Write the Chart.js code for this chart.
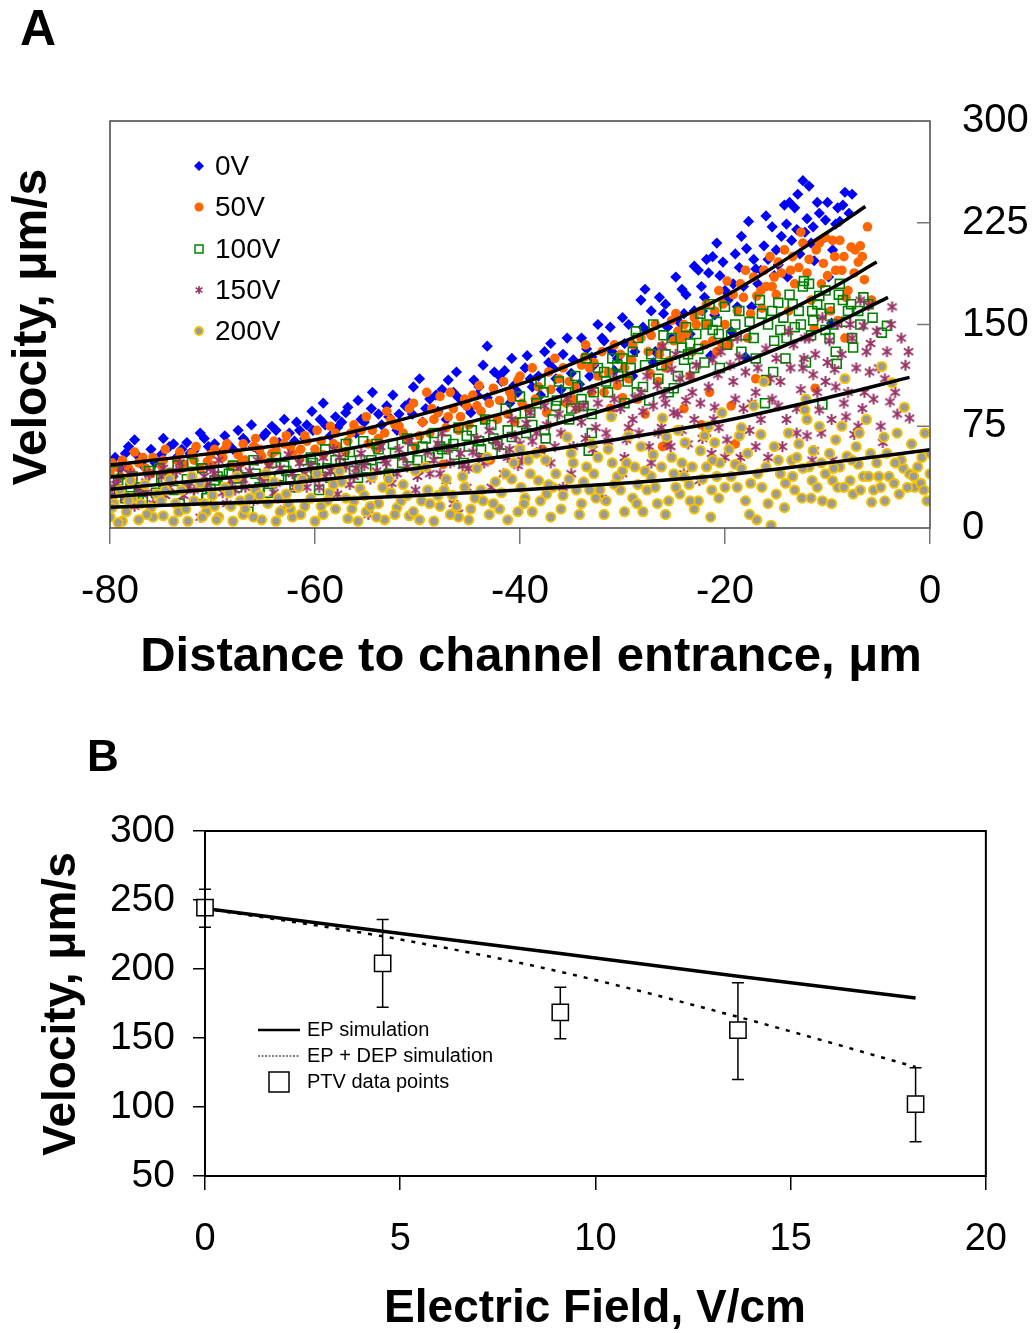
<!DOCTYPE html>
<html><head><meta charset="utf-8">
<script src="https://cdn.jsdelivr.net/npm/chart.js@4.4.0/dist/chart.umd.min.js"></script>
<style>
html,body{margin:0;padding:0;background:#fff;}
#wrap{position:relative;width:1034px;height:1333px;overflow:hidden;background:#fff;}
canvas{position:absolute;left:0;}
#cA{top:0}
#cB{top:700px}
</style></head><body>
<div id="wrap"><canvas id="cA" width="1034" height="700"></canvas><canvas id="cB" width="1034" height="633"></canvas></div>
<script>
// ---------------- Panel A data ----------------
const seriesNamesA = ['0V','50V','100V','150V','200V'];
const xTicksA = [-80,-60,-40,-20,0];
const yTicksA = [0,75,150,225,300];

const s0V = [[-80,48],[-79.5,52],[-78.5,55],[-77.6,65],[-77,50],[-76,58],[-75,54],[-74.2,60],[-73.5,52],[-72.5,63],[-71.8,57],[-70.8,66],[-70,58],[-69.2,55],[-68.5,62],[-67.5,72],[-66.8,64],[-66,60],[-65,68],[-64.2,75],[-63.5,63],[-62.5,70],[-61.8,78],[-61,66],[-60.2,72],[-59.5,80],[-58.5,68],[-57.8,74],[-57,85],[-56,70],[-55.2,78],[-54.5,88],[-53.5,76],[-52.8,82],[-52,72],[-51.2,90],[-50.5,84],[-49.5,78],[-48.8,95],[-48,86],[-47.2,80],[-46.5,100],[-45.5,92],[-44.8,85],[-44,104],[-43.2,96],[-42.5,115],[-41.8,108],[-41,92],[-40.2,100],[-39.5,118],[-38.8,104],[-38,98],[-37.2,122],[-36.5,110],[-35.8,128],[-35,114],[-34.2,106],[-33.5,132],[-32.8,120],[-32,140],[-31.2,148],[-30.5,125],[-29.8,136],[-29,112],[-28.2,168],[-27.5,145],[-26.8,130],[-26,158],[-25.2,140],[-24.5,152],[-23.8,172],[-23,160],[-22.3,178],[-21.8,198],[-21.4,127],[-21.2,200],[-20.5,186],[-20,175],[-19.4,145],[-19.2,180],[-18.8,163],[-18.2,178],[-18,126],[-17.7,226],[-17.4,163],[-17,191],[-16.5,190],[-15.8,198],[-15,205],[-14.5,215],[-13.7,240],[-13.5,212],[-13.2,236],[-12.7,202],[-12.4,256],[-12,228],[-11.6,210],[-11.3,197],[-10.8,232],[-10.2,227],[-9.9,185],[-9.6,151],[-9.2,224],[-8.8,226],[-8.3,247.5],[-7.6,246],
[-78.2,60],[-76.8,46],[-74.8,66],[-73,58],[-71.2,70],[-69.8,62],[-68,58],[-66.2,76],[-64.8,70],[-63,80],[-61.5,72],[-60.3,86],[-59,76],[-58,82],[-56.8,89],[-55.5,80],[-54.4,100],[-53,90],[-51.8,84],[-50.4,104],[-49.2,88],[-48.2,98],[-47,109],[-46,96],[-45,88],[-44.5,109],[-43.2,134],[-42,112],[-41.5,116],[-40.6,105],[-39.3,127],[-38.2,112],[-37.6,130],[-36.8,118],[-36,102],[-34.8,124],[-34,140],[-33,126],[-31.8,138],[-30.8,116],[-30,155],[-28.8,130],[-28,148],[-27,122],[-26.4,170],[-25.6,148],[-24.8,185],[-24,158],[-23.4,143],[-22.6,190],[-22,170],[-21,157],[-20.2,196],[-19.7,168],[-18.6,192],[-17.9,206],[-16.8,180],[-16.2,208],[-15.4,222],[-14.8,194],[-14.2,238],[-13.9,185],[-12.9,246],[-12.2,218],[-11,240],[-10.5,213],[-9.5,205],[-8.5,238],[-7.9,232],
[-79,44],[-77.4,54],[-75.6,48],[-73.8,62],[-72.2,55],[-70.4,60],[-68.8,68],[-67,66],[-65.6,58],[-63.8,72],[-62,64],[-60.8,76],[-59.2,92],[-57.4,78],[-55.8,94],[-53.8,84],[-52.4,98],[-50.8,92],[-49.8,110],[-47.6,102],[-46.2,115],[-44.2,98],[-43.6,120],[-40.8,125],[-39,110],[-37,136],[-35.4,140],[-33.2,112],[-32.4,150],[-31,130],[-29.4,150],[-27.8,176],[-27.2,160],[-25.8,165],[-24.2,176],[-23,193],[-22.2,160],[-21.6,188],[-20.8,210],[-19,202],[-18.4,215],[-17.2,198],[-16,230],[-15.2,186],[-14,224],[-13,220],[-11.8,252],[-11.4,222],[-10,240],[-9,236]];

const s50V = [[-80,40],[-79.5,45],[-78.8,50],[-78,42],[-77.2,48],[-76.5,44],[-75.8,52],[-75,46],[-74.2,41],[-73.5,50],[-72.8,47],[-72,55],[-71.2,44],[-70.5,49],[-69.8,58],[-69,52],[-68.2,46],[-67.5,54],[-66.8,50],[-66,60],[-65.2,53],[-64.5,48],[-63.8,57],[-63,62],[-62.2,55],[-61.5,51],[-60.8,64],[-60,58],[-59.2,54],[-58.5,75],[-57.8,60],[-57,56],[-56.5,70],[-55.5,72],[-54.8,62],[-54,58],[-53.2,70],[-52.6,80],[-51.8,75],[-51,66],[-50.2,60],[-49.5,78],[-49.1,100],[-48.8,70],[-48,85],[-47.8,97],[-47.5,47],[-47.2,74],[-46.5,88],[-45.8,82],[-45.4,95],[-45,76],[-44.2,90],[-43.5,80],[-42.9,50],[-42.6,103],[-42,94],[-41.2,84],[-40.5,78],[-40.2,109],[-40,112],[-39.2,88],[-38.5,95],[-37.8,58],[-37,102],[-36.2,110],[-35.5,92],[-34.8,95],[-34,120],[-33.7,126],[-33,100],[-32.4,112],[-32,130],[-31.2,88],[-30.5,105],[-29.8,118],[-29.1,124],[-28.5,95],[-27.5,130],[-27.3,114],[-26.5,108],[-26.1,60],[-26.2,134],[-25.5,123],[-25.2,153],[-24.6,145],[-24.3,140],[-24,88],[-23.8,143],[-23.2,130],[-22.4,160],[-22.3,76],[-21.8,165],[-21.2,138],[-20.8,130],[-20.3,134],[-19.4,90],[-19,62],[-19.2,172],[-18.5,180],[-17.5,158],[-17,110],[-16.9,171],[-16.5,175],[-16,178],[-15.2,185],[-14.5,188],[-13.6,190],[-13.2,180],[-12.8,192],[-11.3,147],[-11.2,103],[-11.1,205],[-10.6,180],[-10,186],[-9.5,212],[-9.3,200],[-9,153],[-8.8,212],[-8.3,140],[-8.2,170],[-7.7,207],[-7.3,205],[-7,196],[-6.1,222],[-5.7,168],
[-79,38],[-77.6,56],[-76,40],[-74.6,58],[-73,44],[-71.6,60],[-70,46],[-68.6,62],[-67.2,48],[-65.8,66],[-64.2,55],[-62.8,68],[-61.4,58],[-59.8,72],[-58.2,62],[-56.8,64],[-55,82],[-53.8,66],[-52.2,76],[-50.8,88],[-49.8,68],[-48.4,80],[-46.8,100],[-46,72],[-44.6,98],[-43.8,86],[-42.2,80],[-41,100],[-39.8,92],[-38.8,118],[-37.4,85],[-36.6,125],[-35.2,108],[-34.4,88],[-33.2,118],[-31.8,100],[-30.8,135],[-30,96],[-29.4,110],[-28.2,140],[-27.8,84],[-26.8,150],[-25.8,118],[-24.8,158],[-23.4,112],[-22.8,150],[-22,135],[-21.5,100],[-20.6,175],[-20,150],[-19.6,135],[-18.8,160],[-18,190],[-17.8,140],[-16.4,162],[-15.6,200],[-15,172],[-14.2,205],[-13.8,160],[-12.4,210],[-12,188],[-11.6,168],[-10.8,210],[-10.4,195],[-9.7,160],[-8.6,190],[-8,175],[-6.8,208],[-6.4,183],
[-79.8,48],[-78.2,44],[-76.8,52],[-74.8,50],[-73.2,56],[-71.8,50],[-70.2,54],[-68.8,58],[-67,62],[-65.4,58],[-64,64],[-62.4,60],[-61,68],[-59.4,64],[-58,70],[-56.2,76],[-54.4,72],[-53,86],[-51.4,70],[-50.4,92],[-48.6,88],[-47,82],[-45.2,90],[-44,105],[-43,92],[-41.6,108],[-40.8,96],[-38.2,104],[-37.2,115],[-35.8,118],[-34.6,104],[-33.6,135],[-32.8,122],[-31.4,115],[-30.2,128],[-29,135],[-27.2,142],[-26.4,128],[-25,138],[-24,150],[-23,155],[-21.8,150],[-21,160],[-20.2,165],[-19.8,182],[-18.2,170],[-17.2,185],[-16.2,190],[-15.4,178],[-14.8,196],[-13.4,200],[-12.6,218],[-11.8,198],[-10.2,214],[-9.2,190],[-8.4,200],[-7.4,188],[-6.6,200]];

const s100V = [[-80,28],[-79.2,35],[-78.5,22],[-77.8,38],[-77,30],[-76.2,42],[-75.5,26],[-74.8,34],[-74,40],[-73.2,18],[-72.5,36],[-71.8,31],[-71,44],[-70.2,29],[-69.5,38],[-68.8,33],[-68,46],[-67.2,37],[-66.5,12],[-65.8,40],[-65,34],[-64.2,48],[-63.5,38],[-62.8,42],[-62,30],[-61.2,50],[-60.8,40],[-60,44],[-59,58],[-58.5,37],[-57.5,48],[-57,62],[-56.2,42],[-55.8,37],[-55.3,64],[-54.5,50],[-53.5,45],[-52.2,55],[-51.5,48],[-50.5,58],[-49.5,60],[-48.8,52],[-48,55],[-47.2,65],[-46.5,62],[-45.5,48],[-44.7,72],[-43.8,58],[-42.6,66],[-41.8,55],[-40.8,67],[-40,97],[-39.8,78],[-39,85],[-37.7,100],[-37.6,72],[-37.5,66],[-36.5,90],[-35.5,100],[-35,88],[-34,95],[-33.8,90],[-33.5,125],[-33.3,57],[-33,70],[-31.8,115],[-31,125],[-30.5,120],[-30,125],[-29.5,108],[-28.7,145],[-28.5,140],[-28.6,100],[-27.4,94],[-26.5,110],[-26,142],[-25.5,100],[-25,103],[-24.2,133],[-23.6,128],[-22.8,143],[-22,122],[-21.8,150],[-21.5,165],[-21.2,146],[-20.6,143],[-20.5,118],[-20,163],[-19,150],[-17.6,152],[-17,125],[-16,109],[-16.1,92],[-15.3,115],[-15.2,138],[-14.3,155],[-14,140],[-14.1,125],[-13.7,172],[-12.4,178],[-12.3,182],[-12.1,122],[-11.5,160],[-11.4,153],[-11,165],[-10.8,171],[-10.5,91],[-10.2,146],[-9.8,162],[-9.2,130],[-9.1,121],[-8.5,168],[-7.7,165],[-7.6,140],[-7.5,133],[-7,160],[-4.7,144],[-4.2,149],
[-79.6,42],[-78,30],[-76.8,20],[-75.2,44],[-73.8,28],[-72,48],[-70.6,22],[-69,42],[-67.6,30],[-66,50],[-64.6,26],[-63,46],[-61.6,36],[-60.4,52],[-59.6,28],[-58,50],[-56.6,56],[-55,44],[-54,62],[-52.8,40],[-51,66],[-50,50],[-48.4,70],[-47.6,58],[-46,74],[-45,60],[-43.4,80],[-42.2,62],[-41.4,88],[-39.4,70],[-38.4,92],[-36.8,80],[-36.2,108],[-34.6,112],[-33,84],[-32.4,118],[-31.4,100],[-29.8,92],[-29,130],[-27.8,120],[-27,150],[-25.8,128],[-24.6,112],[-23.8,148],[-23,118],[-22.4,158],[-19.8,135],[-18.6,160],[-18,142],[-16.6,168],[-15.8,150],[-14.8,166],[-13.2,148],[-12.8,160],[-11.8,180],[-10.2,175],[-9.5,150],[-8.8,180],[-8.2,152],[-6.5,170],[-5.6,155],
[-78.8,33],[-77.2,25],[-75,36],[-73.4,46],[-71.4,24],[-69.8,35],[-68.4,40],[-66.8,44],[-65.4,30],[-63.8,52],[-62.4,36],[-60.2,48],[-58.8,44],[-57.2,54],[-55.6,50],[-53.8,58],[-52.4,62],[-50.8,52],[-49.2,66],[-47.8,60],[-46.4,54],[-45.2,68],[-44,64],[-42.8,76],[-41.2,72],[-40.4,84],[-38.8,76],[-38,108],[-36.4,94],[-35.2,80],[-34.4,104],[-32.8,100],[-31.6,108],[-30.4,112],[-29.2,118],[-28,104],[-27.2,128],[-26.2,120],[-25.2,140],[-24,124],[-23.4,136],[-22.6,132],[-20.8,152],[-19.4,142],[-18.4,130],[-17.2,140],[-16.4,158],[-15.4,160],[-14.6,146],[-13.4,165],[-12.6,150],[-11.6,142],[-10.6,158],[-9.8,140],[-8.9,172],[-8,160],[-6.8,150],[-6,165]];

const s150V = [[-80,30],[-79.3,36],[-78.6,22],[-78,40],[-77.2,28],[-76.5,34],[-75.8,18],[-75,38],[-74.2,30],[-73.5,42],[-72.8,24],[-72,36],[-71.2,8],[-70.5,32],[-69.8,40],[-69,26],[-68.2,35],[-67.5,44],[-66.8,30],[-66,20],[-65.2,38],[-64.5,46],[-63.8,33],[-63,14],[-62.2,40],[-61.5,48],[-60.8,30],[-60,36],[-59.2,52],[-58.5,42],[-57.8,25],[-57,45],[-56.2,38],[-55.5,55],[-54.8,10],[-54,42],[-53.2,50],[-52.5,33],[-51.8,58],[-51,45],[-50.2,28],[-49.5,44],[-48.8,40],[-48,62],[-47.8,40],[-47.2,35],[-46.5,18],[-46,11],[-45.8,55],[-45,44],[-44.2,66],[-43.5,48],[-42.8,30],[-42,60],[-41.2,52],[-40.5,68],[-40,62],[-39.4,77],[-39,85],[-38,57],[-37,48],[-36,70],[-35.4,95],[-35,40],[-34,78],[-33,102],[-32.9,58],[-32,22],[-31,85],[-30.2,88],[-29.8,52],[-29.6,65],[-29,80],[-28.8,96],[-28.2,100],[-27,90],[-26.5,70],[-26.2,74],[-26.1,134],[-25.6,62],[-25.3,60],[-25.2,117],[-25,85],[-24.4,110],[-24,40],[-23.6,62],[-23.2,100],[-23,80],[-22.5,35],[-21.3,55],[-21.1,80],[-21,89],[-20.7,113],[-20.6,74],[-20,52],[-19.5,120],[-19,95],[-18.5,52],[-18,115],[-17,100],[-16.5,80],[-16,132],[-15.8,52],[-15,125],[-14,80],[-13.3,135],[-12.6,102],[-12.4,118],[-12.3,125],[-11.5,50],[-11.4,113],[-11.3,57],[-11,100],[-10.8,87],[-10.5,155],[-10,122],[-9.8,138],[-9.5,50],[-9.3,117],[-8.4,92],[-7.4,69],[-7,75],[-6.8,168],[-6.5,149],[-6.4,100],[-6,164],[-5.9,115],[-5.5,95],[-4.8,75],[-4.6,63],[-4.2,130],[-3.9,93],[-3.7,163],[-2.1,130],[-2,81],
[-79.8,24],[-78.9,44],[-77.6,16],[-76.2,40],[-74.6,24],[-73.2,48],[-71.8,28],[-70.2,44],[-68.6,18],[-67,36],[-65.6,50],[-64,26],[-62.6,54],[-61,40],[-59.6,30],[-58.2,58],[-56.6,32],[-55.2,46],[-53.6,60],[-52,40],[-50.8,64],[-49,56],[-47.6,70],[-46.8,48],[-45.2,30],[-44.6,56],[-43,72],[-41.6,40],[-40.8,80],[-39.8,50],[-38.4,70],[-37.6,90],[-36.6,60],[-35.8,30],[-34.6,88],[-33.6,66],[-32.4,92],[-31.6,70],[-30.6,110],[-30,40],[-28.4,70],[-27.6,112],[-27.2,48],[-26,98],[-24.8,128],[-24.2,72],[-23.8,94],[-22.8,120],[-22.2,66],[-21.6,104],[-20.4,130],[-19.8,65],[-18.8,140],[-18.2,88],[-17.6,72],[-16.8,118],[-15.4,95],[-14.6,108],[-14.4,60],[-13.8,145],[-13,88],[-12,68],[-11.8,140],[-10.2,108],[-9.6,80],[-9,150],[-8.6,128],[-8,100],[-7.6,140],[-7.2,118],[-6.2,130],[-5.2,145],[-4.4,110],[-3.4,100],[-2.8,140],[-2.4,120],
[-79.4,32],[-77.8,34],[-76.4,26],[-74.8,44],[-73.8,36],[-72.4,30],[-70.8,38],[-69.4,50],[-67.8,28],[-66.4,42],[-65,34],[-63.4,44],[-62,30],[-60.4,46],[-59,38],[-57.6,52],[-56,44],[-54.6,36],[-53,48],[-51.4,52],[-50,38],[-48.4,50],[-47,58],[-45.6,46],[-44,52],[-42.4,64],[-41,58],[-40.2,46],[-38.8,64],[-37.4,76],[-36.2,84],[-34.8,60],[-33.8,90],[-32.6,74],[-31.4,64],[-30.8,95],[-29.4,74],[-28,86],[-27.4,60],[-26.6,105],[-25.8,92],[-24.6,84],[-23.4,112],[-22.4,92],[-21.8,70],[-21.2,124],[-19.2,108],[-18.6,126],[-17.4,92],[-17,60],[-15.6,110],[-14.8,90],[-13.6,118],[-13,70],[-12.2,140],[-11.2,128],[-10.6,70],[-9.2,104],[-8.2,82],[-7.8,150],[-6.6,88],[-5.8,136],[-5,118],[-3.8,150],[-3.2,84]];

const s200V = [[-80,8],[-79.6,18],[-79,28],[-78.4,12],[-77.8,22],[-77.2,6],[-76.6,32],[-76,15],[-75.4,25],[-74.8,9],[-74.2,36],[-73.6,18],[-73,28],[-72.4,5],[-71.8,20],[-71.2,33],[-70.6,12],[-70,24],[-69.4,8],[-68.8,30],[-68.2,16],[-67.6,38],[-67,10],[-66.4,22],[-65.8,28],[-65.2,6],[-64.6,18],[-64,34],[-63.4,12],[-62.8,25],[-62.2,8],[-61.6,30],[-61,16],[-60.4,22],[-59.8,40],[-59.2,10],[-58.6,26],[-58,14],[-57.4,34],[-56.8,7],[-56.2,20],[-55.6,29],[-55,12],[-54.4,38],[-53.8,18],[-53.2,6],[-52.6,26],[-52,15],[-51.4,32],[-50.8,9],[-50.2,42],[-49.6,20],[-49,28],[-48.4,5],[-47.8,16],[-47.2,36],[-46.6,24],[-46,8],[-45.4,30],[-44.8,14],[-44.2,44],[-43.6,20],[-43,10],[-42.4,34],[-41.8,26],[-41.2,6],[-40.6,48],[-40,58],[-39.9,30],[-39.5,22],[-39.2,50],[-38.8,12],[-38.2,35],[-37.5,50],[-37.4,25],[-37,8],[-36.5,40],[-35.4,67],[-35,55],[-34.5,28],[-34,18],[-33.5,45],[-33,62],[-32.8,40],[-32.2,28],[-31.8,10],[-31.1,82],[-31,48],[-30.5,38],[-30,42],[-29.4,68],[-29,22],[-28.8,45],[-28.5,32],[-28,12],[-27.6,28],[-27,54],[-26.2,45],[-26.1,81],[-25.7,67],[-25.5,20],[-25,40],[-24.4,25],[-24,38],[-23.9,63],[-23.5,32],[-23,14],[-22.4,57],[-22,68],[-21.8,45],[-21.4,8],[-21.3,28],[-21,63],[-20.5,48],[-20.3,85],[-20,30],[-19,47],[-18.6,68],[-18.4,74],[-18,20],[-17.5,33],[-16.9,6],[-16.5,69],[-16.4,30],[-16.2,108],[-15.5,2],[-15,25],[-14.1,33],[-13.5,50],[-13,52],[-12.5,22],[-12.1,95],[-12.2,87],[-12,80],[-11.5,35],[-11.4,57],[-11,30],[-10.5,20],[-9.5,35],[-9.2,65],[-9,30],[-8.3,110],[-8.1,53],[-7.5,25],[-7,47],[-6.9,70],[-6.5,38],[-6,38],[-5.7,19],[-5.5,28],[-4.7,119],[-4.5,67],[-4,38],[-3.7,107],[-3.5,33],[-3,25],[-2.6,44],[-2.5,89],[-2,40],[-1.5,30],[-0.9,33],[-0.8,52],[-0.3,20],[0,55],[0,40],
[-79.8,15],[-78.8,5],[-78,35],[-77,18],[-75.8,8],[-74.6,28],[-73.3,12],[-72,38],[-70.8,18],[-69.6,6],[-68.4,26],[-67.3,20],[-66,8],[-64.8,40],[-63.6,22],[-62.4,14],[-61.2,36],[-60,5],[-58.8,20],[-57.6,42],[-56.4,14],[-55.2,24],[-54,8],[-52.8,36],[-51.6,20],[-50.4,12],[-49.2,45],[-48,24],[-46.8,10],[-45.6,38],[-44.4,22],[-43.2,52],[-42,14],[-40.8,36],[-39.6,18],[-38.4,55],[-36.8,30],[-36,14],[-34.8,48],[-33.8,34],[-32.6,22],[-31.4,58],[-30.2,28],[-29.8,12],[-28.2,60],[-27.2,38],[-26.6,18],[-25.2,52],[-24.6,72],[-23.2,45],[-22.6,20],[-21.6,75],[-20.8,38],[-19.6,58],[-18.8,30],[-17.8,55],[-17.2,90],[-16,45],[-15.2,60],[-14.6,40],[-13.8,70],[-13.2,28],[-12.8,62],[-11.8,45],[-10.8,75],[-10.2,40],[-9.8,55],[-8.8,45],[-8.6,75],[-7.8,35],[-7.2,60],[-6.2,80],[-5.2,48],[-4.8,30],[-4.2,55],[-3.2,70],[-2.8,50],[-1.8,62],[-1.2,45],[-0.5,70],
[-79.2,4],[-78.2,20],[-76.4,10],[-75,20],[-73.8,5],[-72.6,14],[-71,8],[-69.8,16],[-68,5],[-66.8,14],[-65.4,24],[-63.8,5],[-62.6,18],[-61.4,10],[-59.4,16],[-58.2,32],[-57,22],[-55.8,5],[-54.6,16],[-53.4,30],[-52.2,10],[-51,24],[-49.8,6],[-48.8,18],[-47.4,28],[-46.2,16],[-45,6],[-43.8,28],[-42.6,18],[-41.4,40],[-40.2,12],[-39,40],[-38,20],[-37.2,32],[-35.8,24],[-35.2,36],[-34.2,10],[-33.2,28],[-32.4,52],[-31.6,20],[-30.8,32],[-29.6,48],[-28.6,18],[-27.8,42],[-26.8,30],[-25.8,10],[-24.8,30],[-24.2,48],[-23.4,20],[-22.2,36],[-21.2,50],[-20.6,22],[-19.4,38],[-18.4,44],[-17.6,10],[-16.8,40],[-15.8,18],[-14.8,50],[-14.2,15],[-13.4,38],[-12.4,44],[-11.6,22],[-10.6,48],[-9.6,18],[-9.4,44],[-8.4,30],[-7.6,50],[-6.8,28],[-5.8,55],[-5,38],[-4.4,20],[-3.4,48],[-2.2,30],[-1.6,38],[-0.6,28]];

// fitted curves
const fit0X   = [-80,-70,-60,-50,-40,-30,-20,-10,-6.3];
const fit0Y   = [46.5,55,65,83,106,137,171,218,237];
const fit50X  = [-80,-70,-60,-50,-40,-30,-20,-10,-5.2];
const fit50Y  = [37.5,45,54,69,88,112,139,175,196];
const fit100X = [-80,-70,-60,-50,-40,-30,-20,-10,-4.1];
const fit100Y = [28.6,36,44,56,70,91,117,148,170];
const fit150X = [-80,-70,-60,-50,-40,-30,-20,-10,-2];
const fit150Y = [23,28.5,35,44,54.5,66,79,96,111];
const fit200X = [-80,-70,-60,-50,-40,-30,-20,-10,0];
const fit200Y = [15.3,18,20.5,24,28,33,39,48,57.6];

// ---------------- Panel B data ----------------
const xTicksB = [0,5,10,15,20];
const yTicksB = [50,100,150,200,250,300];
const fieldB   = [0, 4.55, 9.1, 13.65, 18.2];
const epSim    = [243.8, 227.4, 211.2, 194.8, 179.0];
const epDepSim = [243.8, 223.7, 198.0, 165.3, 129.0];
const ptvMean  = [244.5, 204.0, 168.5, 155.7, 102.0];
const ptvLow   = [230.3, 172.3, 149.4, 120.0, 74.9];
const ptvHigh  = [257.8, 235.8, 186.8, 190.0, 128.4];
const legendB  = ['EP simulation','EP + DEP simulation','PTV data points'];

// ---------------- helpers ----------------
const FONT = '"Liberation Sans", Arial, Helvetica, sans-serif';
const toXY = arr => arr.map(p => ({x:p[0], y:p[1]}));
const zip = (xs, ys) => xs.map((x,i) => ({x:x, y:ys[i]}));

function makeStar(r, color, lw){
  const s = Math.ceil(2*r + lw*2);
  const c = document.createElement('canvas'); c.width = s; c.height = s;
  const g = c.getContext('2d');
  g.strokeStyle = color; g.lineWidth = lw;
  const cx = s/2, cy = s/2, d = r*0.85;
  g.beginPath();
  g.moveTo(cx, cy - r); g.lineTo(cx, cy + r);
  g.moveTo(cx - d, cy - d*0.7); g.lineTo(cx + d, cy + d*0.7);
  g.moveTo(cx - d, cy + d*0.7); g.lineTo(cx + d, cy - d*0.7);
  g.stroke();
  return c;
}
const starBig = makeStar(5.5, '#993366', 2);
const starSmall = makeStar(4, '#993366', 1.6);

const C_BLUE = '#0000FF', C_ORANGE = '#FF6600', C_GREEN = '#008000', C_PURPLE = '#993366', C_GOLD = '#F2C200', C_GRAY = '#9A9A9A';

const fitStyle = {showLine:true, borderColor:'#000', borderWidth:3.5, pointRadius:0, cubicInterpolationMode:'monotone', order:0};

// ---------------- Panel A ----------------
const plugA = {
  id:'plugA',
  afterDraw(chart){
    const ctx = chart.ctx, a = chart.chartArea, ys = chart.scales.y;
    ctx.save();
    ctx.strokeStyle = '#444'; ctx.lineWidth = 1.5;
    ctx.strokeRect(a.left, a.top, a.right - a.left, a.bottom - a.top);
    ctx.strokeStyle = '#777'; ctx.lineWidth = 1.5;
    yTicksA.forEach(v => { const y = ys.getPixelForValue(v); ctx.beginPath(); ctx.moveTo(a.right - 13, y); ctx.lineTo(a.right, y); ctx.stroke(); });
    const ly = [166,207,249,290,331];
    const lx = 199;
    ctx.font = '28px ' + FONT; ctx.textBaseline = 'middle'; ctx.textAlign = 'left'; ctx.fillStyle = '#000';
    seriesNamesA.forEach((n,i) => ctx.fillText(n, 215, ly[i] + 1));
    ctx.fillStyle = C_BLUE; ctx.strokeStyle = C_BLUE; ctx.lineWidth = 0;
    Chart.helpers.drawPoint(ctx, {pointStyle:'rectRot', radius:5, rotation:0, borderWidth:0}, lx, ly[0]);
    ctx.fillStyle = C_ORANGE;
    Chart.helpers.drawPoint(ctx, {pointStyle:'circle', radius:4.5, rotation:0, borderWidth:0}, lx, ly[1]);
    ctx.strokeStyle = C_GREEN; ctx.lineWidth = 1.5;
    ctx.strokeRect(lx - 4, ly[2] - 4, 8, 8);
    ctx.drawImage(starSmall, lx - starSmall.width/2, ly[3] - starSmall.height/2);
    ctx.beginPath(); ctx.arc(lx, ly[4], 4, 0, Math.PI*2); ctx.fillStyle = C_GRAY; ctx.fill();
    ctx.lineWidth = 1.8; ctx.strokeStyle = C_GOLD; ctx.stroke();
    ctx.fillStyle = '#000';
    ctx.font = 'bold 50px ' + FONT; ctx.textAlign = 'left'; ctx.textBaseline = 'middle';
    ctx.fillText('A', 20, 31);
    ctx.font = 'bold 49px ' + FONT; ctx.textAlign = 'center';
    ctx.fillText('Distance to channel entrance, \u03bcm', 531, 657);
    ctx.translate(33, 327); ctx.rotate(-Math.PI/2);
    ctx.font = 'bold 48px ' + FONT;
    ctx.fillText('Velocity, \u03bcm/s', 0, 0);
    ctx.restore();
  }
};

new Chart(document.getElementById('cA'), {
  type:'scatter',
  data:{ datasets:[
    Object.assign({label:'fit 0V', data: zip(fit0X, fit0Y)}, fitStyle),
    Object.assign({label:'fit 50V', data: zip(fit50X, fit50Y)}, fitStyle),
    Object.assign({label:'fit 100V', data: zip(fit100X, fit100Y)}, fitStyle),
    Object.assign({label:'fit 150V', data: zip(fit150X, fit150Y)}, fitStyle),
    Object.assign({label:'fit 200V', data: zip(fit200X, fit200Y)}, fitStyle),
    {label:seriesNamesA[4], data: toXY(s200V), pointStyle:'circle', pointRadius:4.6, backgroundColor:C_GRAY, borderColor:C_GOLD, borderWidth:2, order:1},
    {label:seriesNamesA[3], data: toXY(s150V), pointStyle:starBig, pointRadius:6, order:2},
    {label:seriesNamesA[2], data: toXY(s100V), pointStyle:'rect', pointRadius:6.3, backgroundColor:'rgba(0,0,0,0)', borderColor:C_GREEN, borderWidth:1.6, order:3},
    {label:seriesNamesA[1], data: toXY(s50V), pointStyle:'circle', pointRadius:4.8, backgroundColor:C_ORANGE, borderColor:C_ORANGE, borderWidth:0, order:4},
    {label:seriesNamesA[0], data: toXY(s0V), pointStyle:'rectRot', pointRadius:5.6, backgroundColor:C_BLUE, borderColor:C_BLUE, borderWidth:0, order:5}
  ]},
  options:{
    responsive:false, animation:false, devicePixelRatio:1,
    layout:{padding:{left:110, top:121, right:0, bottom:0}},
    plugins:{legend:{display:false}, tooltip:{enabled:false}},
    scales:{
      x:{type:'linear', position:'bottom', min:-80, max:0,
        afterBuildTicks(s){ s.ticks = xTicksA.map(v => ({value:v})); },
        ticks:{font:{family:FONT, size:40}, color:'#000', padding:24, maxRotation:0, autoSkip:false},
        grid:{display:true, drawOnChartArea:false, drawTicks:true, tickLength:16, color:'#777', lineWidth:1.5},
        border:{display:false},
        afterFit(s){ s.height = 172; }},
      y:{type:'linear', position:'right', min:0, max:300,
        afterBuildTicks(s){ s.ticks = yTicksA.map(v => ({value:v})); },
        ticks:{font:{family:FONT, size:40}, color:'#000', padding:24, autoSkip:false},
        grid:{display:false}, border:{display:false},
        afterFit(s){ s.width = 104; }}
    }
  },
  plugins:[plugA]
});

// ---------------- Panel B ----------------
const plugB = {
  id:'plugB',
  beforeDatasetsDraw(chart){
    const ctx = chart.ctx, xs = chart.scales.x, ys = chart.scales.y;
    ctx.save(); ctx.strokeStyle = '#000'; ctx.lineWidth = 1.5;
    fieldB.forEach((f,i) => {
      const x = xs.getPixelForValue(f), y1 = ys.getPixelForValue(ptvHigh[i]), y2 = ys.getPixelForValue(ptvLow[i]);
      ctx.beginPath(); ctx.moveTo(x, y1); ctx.lineTo(x, y2);
      ctx.moveTo(x - 6, y1); ctx.lineTo(x + 6, y1);
      ctx.moveTo(x - 6, y2); ctx.lineTo(x + 6, y2);
      ctx.stroke();
    });
    ctx.restore();
  },
  afterDraw(chart){
    const ctx = chart.ctx, a = chart.chartArea;
    ctx.save();
    ctx.strokeStyle = '#000'; ctx.lineWidth = 2;
    ctx.strokeRect(a.left, a.top, a.right - a.left, a.bottom - a.top);
    const ly = [330, 356, 382];
    ctx.lineWidth = 2.5; ctx.beginPath(); ctx.moveTo(258, ly[0]); ctx.lineTo(300, ly[0]); ctx.stroke();
    ctx.lineWidth = 1.2; ctx.setLineDash([2,1.5]); ctx.beginPath(); ctx.moveTo(258, ly[1]); ctx.lineTo(300, ly[1]); ctx.stroke();
    ctx.setLineDash([]); ctx.lineWidth = 1.5; ctx.strokeRect(269, ly[2] - 10, 20, 20);
    ctx.fillStyle = '#000'; ctx.font = '20px ' + FONT; ctx.textBaseline = 'middle'; ctx.textAlign = 'left';
    legendB.forEach((t,i) => ctx.fillText(t, 307, ly[i]));
    ctx.font = 'bold 44px ' + FONT; ctx.textAlign = 'left';
    ctx.fillText('B', 87, 59);
    ctx.font = 'bold 46px ' + FONT; ctx.textAlign = 'center';
    ctx.fillText('Electric Field, V/cm', 595, 609);
    ctx.translate(62, 304); ctx.rotate(-Math.PI/2);
    ctx.fillText('Velocity, \u03bcm/s', 0, 0);
    ctx.restore();
  }
};

new Chart(document.getElementById('cB'), {
  type:'scatter',
  data:{ datasets:[
    {label:legendB[2], data: zip(fieldB, ptvMean), pointStyle:'rect', pointRadius:11.5, backgroundColor:'#fff', borderColor:'#000', borderWidth:1.5, clip:false, order:0},
    {label:legendB[1], data: zip(fieldB, epDepSim), showLine:true, borderColor:'#000', borderWidth:2.5, borderDash:[4,7], pointRadius:0, cubicInterpolationMode:'monotone', order:1},
    {label:legendB[0], data: zip(fieldB, epSim), showLine:true, borderColor:'#000', borderWidth:3.5, pointRadius:0, order:2}
  ]},
  options:{
    responsive:false, animation:false, devicePixelRatio:1,
    layout:{padding:{left:0, top:131, right:47, bottom:0}},
    plugins:{legend:{display:false}, tooltip:{enabled:false}},
    scales:{
      x:{type:'linear', position:'bottom', min:0, max:20,
        afterBuildTicks(s){ s.ticks = xTicksB.map(v => ({value:v})); },
        ticks:{font:{family:FONT, size:38}, color:'#000', padding:27, maxRotation:0, autoSkip:false},
        grid:{display:true, drawOnChartArea:false, drawTicks:true, tickLength:14, color:'#000', lineWidth:1.5},
        border:{display:false},
        afterFit(s){ s.height = 157; }},
      y:{type:'linear', position:'left', min:50, max:300,
        afterBuildTicks(s){ s.ticks = yTicksB.map(v => ({value:v})); },
        ticks:{font:{family:FONT, size:39}, color:'#000', padding:18, autoSkip:false},
        grid:{display:true, drawOnChartArea:false, drawTicks:true, tickLength:12, color:'#000', lineWidth:1.5},
        border:{display:false},
        afterFit(s){ s.width = 205; }}
    }
  },
  plugins:[plugB]
});
</script>
</body></html>
